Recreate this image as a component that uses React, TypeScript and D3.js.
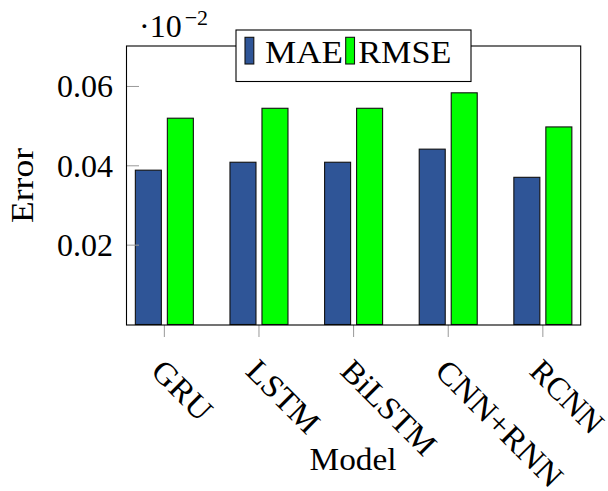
import React from "react";
import * as d3 from "d3";

// Model comparison: MAE and RMSE per architecture (axis scaled by 10^-2)
const categories = ["GRU", "LSTM", "BiLSTM", "CNN+RNN", "RCNN"];
const seriesNames = ["MAE", "RMSE"];
const maeValues = [0.0389, 0.0409, 0.0409, 0.0442, 0.0371];
const rmseValues = [0.052, 0.0545, 0.0545, 0.0584, 0.0498];
const yTickValues = [0.02, 0.04, 0.06];
const yTickLabels = ["0.02", "0.04", "0.06"];
const seriesColors = ["#2f5597", "#00ff00"];

// typeset widths of the labels (px), to keep the wide serif proportions
const categoryWidths = [71, 89, 120, 165, 89];
const legendWidths = [78, 93];

const W = 608;
const H = 491;
const left = 126.5;
const right = 580.7;
const top = 46;
const bottom = 325;
const FONT = "'Liberation Serif', 'Times New Roman', serif";

export default function App() {
  const x = d3.scalePoint<string>().domain(categories).range([left, right]).padding(0.4);
  const inner = d3.scaleBand<string>().domain(seriesNames).range([-29, 29]).paddingInner(0.1875);
  const y = d3.scaleLinear().domain([0, 0.0702]).range([324.5, top]);
  const values = [maeValues, rmseValues];

  const capH = 21;

  return (
    <svg
      width={W}
      height={H}
      style={{ position: "absolute", left: 0, top: 0, background: "#fff" }}
      fontFamily={FONT}
    >
      <rect x={0} y={0} width={W} height={H} fill="#fff" />

      {/* bars */}
      {seriesNames.map((s, si) =>
        categories.map((c, ci) => {
          const x0 = (x(c) as number) + (inner(s) as number);
          const v = values[si][ci];
          return (
            <rect
              key={s + c}
              x={x0}
              y={y(v)}
              width={inner.bandwidth()}
              height={y(0) - y(v)}
              fill={seriesColors[si]}
              stroke="#111"
              strokeWidth={1.1}
            />
          );
        })
      )}

      {/* y ticks (inside) */}
      {yTickValues.map((t, i) => (
        <g key={"yt" + i}>
          <line x1={left} x2={left + 12.5} y1={y(t)} y2={y(t)} stroke="#999" strokeWidth={1} />
          <text x={113} y={y(t) + 11} textAnchor="end" fontSize={32} fill="#000">
            {yTickLabels[i]}
          </text>
        </g>
      ))}

      {/* x ticks (outside) */}
      {categories.map((c) => (
        <line key={"xt" + c} x1={x(c)} x2={x(c)} y1={bottom} y2={bottom + 12} stroke="#999" strokeWidth={1} />
      ))}

      {/* rotated category labels */}
      {categories.map((c, i) => (
        <g key={"xl" + c} transform={`translate(${x(c)},358) rotate(45)`}>
          <text
            x={0}
            y={capH}
            fontSize={32}
            fill="#000"
            textLength={categoryWidths[i]}
            lengthAdjust="spacingAndGlyphs"
          >
            {c}
          </text>
        </g>
      ))}

      {/* plot frame */}
      <rect x={left} y={top} width={right - left} height={bottom - top} fill="none" stroke="#000" strokeWidth={1.1} />

      {/* scale marker */}
      <text x={139} y={37} fontSize={32} fill="#000">
        ·10
        <tspan dx={3} dy={-12} fontSize={22}>
          −2
        </tspan>
      </text>

      {/* legend */}
      <rect x={236} y={30} width={235} height={51.5} fill="#fff" stroke="#000" strokeWidth={1.1} />
      {seriesNames.map((s, si) => {
        const sx = si === 0 ? 245 : 345.7;
        const tx = si === 0 ? 265 : 358.3;
        return (
          <g key={"lg" + s}>
            <rect x={sx} y={37.3} width={8.8} height={26.7} fill={seriesColors[si]} stroke="#111" strokeWidth={1.1} />
            <text
              x={tx}
              y={63.3}
              fontSize={32}
              fill="#000"
              textLength={legendWidths[si]}
              lengthAdjust="spacingAndGlyphs"
            >
              {s}
            </text>
          </g>
        );
      })}

      {/* axis titles */}
      <text x={353} y={470} textAnchor="middle" fontSize={32} fill="#000" textLength={87} lengthAdjust="spacingAndGlyphs">
        Model
      </text>
      <g transform={`translate(33,${(top + bottom) / 2}) rotate(-90)`}>
        <text x={0} y={0} textAnchor="middle" fontSize={32} fill="#000" textLength={75} lengthAdjust="spacingAndGlyphs">
          Error
        </text>
      </g>
    </svg>
  );
}
